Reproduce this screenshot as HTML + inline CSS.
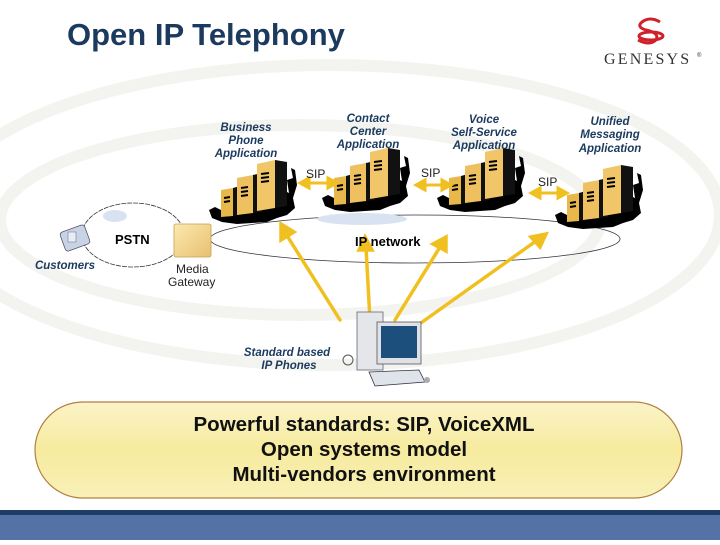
<!DOCTYPE html>
<html><head><meta charset="utf-8"><style>
body{margin:0;width:720px;height:540px;overflow:hidden;background:#fff;font-family:"Liberation Sans",sans-serif}
</style></head><body>
<svg width="720" height="540" viewBox="0 0 720 540" xmlns="http://www.w3.org/2000/svg">
<defs>
<linearGradient id="by" x1="0" y1="0" x2="0" y2="1"><stop offset="0" stop-color="#fbf3c8"/><stop offset="0.5" stop-color="#f6eb9e"/><stop offset="1" stop-color="#f9f0b8"/></linearGradient>
<linearGradient id="gw" x1="0" y1="0" x2="1" y2="1"><stop offset="0" stop-color="#fbe9b0"/><stop offset="1" stop-color="#e8c070"/></linearGradient>
<g id="srv">
<path d="M2,50 L8,47 L14,50 L22,46 L30,50 L40,47 L52,49 L62,44 L70,40 L76,30 L82,33 L80,20 L86,18 L84,8 L88,10 L90,25 L86,38 L88,48 L80,55 L70,58 L60,62 L45,63 L30,64 L15,62 L5,58 Z" fill="#000"/>
<polygon points="14,30 26,28 26,56 14,57" fill="#e8b84a"/>
<polygon points="26,28 33,26 33,55 26,56" fill="#111"/>
<polygon points="30,18 46,15 46,53 30,55" fill="#eec060"/>
<polygon points="46,15 55,13 55,52 46,53" fill="#111"/>
<polygon points="50,4 68,0 68,48 50,51" fill="#f0c668"/>
<polygon points="68,0 80,2 80,46 68,48" fill="#111"/>
<path d="M17,38 l6,-1 M17,42 l6,-1 M34,28 l7,-1 M34,32 l7,-1 M34,36 l7,-1 M54,14 l8,-1 M54,18 l8,-1 M54,22 l8,-1" stroke="#000" stroke-width="2"/>
</g>
</defs>
<!-- background swirl -->
<g fill="none" stroke="#f3f3f0" stroke-width="12">
<ellipse cx="330" cy="215" rx="390" ry="150"/>
<ellipse cx="300" cy="220" rx="300" ry="95"/>
</g>
<!-- title -->
<text x="67" y="45" font-size="31" font-weight="bold" fill="#1b3a5e">Open IP Telephony</text>
<!-- genesys logo -->
<g fill="none" stroke="#d0202a" stroke-width="3">
<path d="M660,22 q-10,-6 -18,0 q-6,5 4,8 q14,3 10,10 q-6,6 -18,0"/>
<ellipse cx="651" cy="36" rx="12" ry="4"/>
</g>
<text x="604" y="64" font-family="Liberation Serif,serif" font-size="16" fill="#333" letter-spacing="2.2">GENESYS</text>
<text x="697" y="57" font-size="6" fill="#333">®</text>
<!-- ellipses -->
<ellipse cx="133" cy="235" rx="51" ry="32" fill="#fff" stroke="#333" stroke-width="0.8" stroke-dasharray="5,1"/>
<ellipse cx="115" cy="216" rx="12" ry="6" fill="#d8e2f0"/>
<ellipse cx="415" cy="239" rx="205" ry="24" fill="none" stroke="#334" stroke-width="0.8"/>
<ellipse cx="362" cy="219" rx="45" ry="6" fill="#d8e2f0"/>
<!-- phone -->
<g transform="translate(58,226)"><rect x="4" y="2" width="26" height="20" rx="3" fill="#c8d4e6" stroke="#556" stroke-width="0.8" transform="rotate(-20 17 12)"/><rect x="10" y="6" width="8" height="10" fill="#e8eef8" stroke="#667" stroke-width="0.5"/></g>
<!-- gateway -->
<rect x="174" y="224" width="37" height="33" rx="2" fill="url(#gw)" stroke="#c8a050" stroke-width="0.8"/>
<!-- servers -->
<use href="#srv" x="207" y="160"/>
<use href="#srv" x="320" y="148"/>
<use href="#srv" x="435" y="148"/>
<use href="#srv" x="553" y="165"/>
<!-- SIP arrows -->
<g stroke="#f0c020" stroke-width="3" fill="#f0c020">
<line x1="305" y1="183" x2="332" y2="183"/><polygon points="300,183 309,178 309,188"/><polygon points="337,183 328,178 328,188"/>
<line x1="421" y1="185" x2="446" y2="185"/><polygon points="416,185 425,180 425,190"/><polygon points="451,185 442,180 442,190"/>
<line x1="536" y1="193" x2="562" y2="193"/><polygon points="531,193 540,188 540,198"/><polygon points="567,193 558,188 558,198"/>
</g>
<!-- big arrows -->
<g stroke="#f0c020" stroke-width="3.5" fill="#f0c020" stroke-linecap="round">
<line x1="340" y1="320" x2="286" y2="234"/><polygon points="281,224 294,232 281,240"/>
<line x1="370" y1="320" x2="366" y2="248"/><polygon points="365,237 372,250 359,250"/>
<line x1="395" y1="320" x2="440" y2="247"/><polygon points="446,237 446,251 433,244"/>
<line x1="418" y1="325" x2="536" y2="241"/><polygon points="546,234 540,247 531,237"/>
</g>
<!-- computer -->
<g transform="translate(355,312)">
<rect x="2" y="0" width="26" height="58" fill="#e4e6ea" stroke="#667" stroke-width="0.8"/>
<rect x="22" y="10" width="44" height="42" fill="#dfe1e6" stroke="#555" stroke-width="0.8"/>
<rect x="26" y="14" width="36" height="32" fill="#1d4f7c"/>
<polygon points="14,60 64,58 70,70 20,74" fill="#dfe3ea" stroke="#334" stroke-width="0.8"/>
<circle cx="-7" cy="48" r="5" fill="none" stroke="#555"/>
<circle cx="72" cy="68" r="3" fill="#aaa"/>
</g>
<!-- labels -->
<g font-style="italic" font-weight="bold" fill="#1b3a5e" font-size="11.5" text-anchor="middle">
<text x="246" y="131">Business</text><text x="246" y="144">Phone</text><text x="246" y="157">Application</text>
<text x="368" y="122">Contact</text><text x="368" y="135">Center</text><text x="368" y="148">Application</text>
<text x="484" y="123">Voice</text><text x="484" y="136">Self-Service</text><text x="484" y="149">Application</text>
<text x="610" y="125">Unified</text><text x="610" y="138">Messaging</text><text x="610" y="152">Application</text>
<text x="65" y="269">Customers</text>
<text x="287" y="356">Standard based</text><text x="289" y="369">IP Phones</text>
</g>
<g font-size="12" fill="#222">
<text x="306" y="178">SIP</text><text x="421" y="177">SIP</text><text x="538" y="186">SIP</text>
<text x="176" y="273" font-size="12">Media</text><text x="168" y="286" font-size="12">Gateway</text>
</g>
<text x="115" y="244" font-size="13" font-weight="bold">PSTN</text>
<text x="355" y="246" font-size="13" font-weight="bold">IP network</text>
<!-- bottom box -->
<rect x="35" y="402" width="647" height="96" rx="48" fill="url(#by)" stroke="#b08040" stroke-width="1.2"/>
<g font-size="20.5" font-weight="bold" fill="#111" text-anchor="middle">
<text x="364" y="431">Powerful standards: SIP, VoiceXML</text>
<text x="364" y="456">Open systems model</text>
<text x="364" y="481">Multi-vendors environment</text>
</g>
<!-- footer -->
<rect x="0" y="510" width="720" height="5" fill="#1d3d64"/>
<rect x="0" y="515" width="720" height="25" fill="#5472a6"/>
</svg>
</body></html>
